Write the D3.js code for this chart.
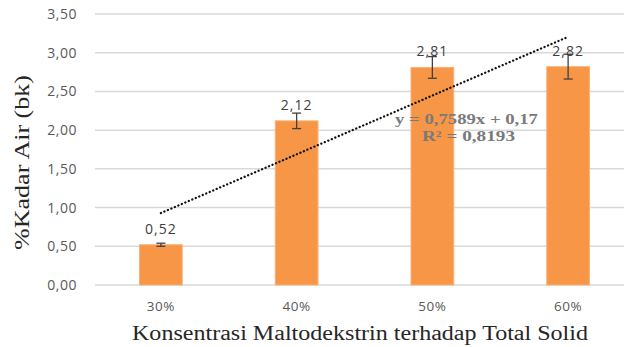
<!DOCTYPE html>
<html>
<head>
<meta charset="utf-8">
<script src="https://cdn.jsdelivr.net/npm/d3@7"></script>
<style>
  html, body { margin: 0; padding: 0; background: #fff; }
  svg { display: block; }
</style>
</head>
<body>
<svg id="chart" width="624" height="347"></svg>
<script>
// Moisture content vs. maltodextrin concentration
const categories = ["30%", "40%", "50%", "60%"];
const values = [0.52, 2.12, 2.81, 2.82];
const errors = [0.02, 0.10, 0.14, 0.16];
const labels = ["0,52", "2,12", "2,81", "2,82"];
const yTicks = [0, 0.5, 1, 1.5, 2, 2.5, 3, 3.5];
const yTickLabels = ["0,00", "0,50", "1,00", "1,50", "2,00", "2,50", "3,00", "3,50"];
const trendSlope = 0.7589;
const trendIntercept = 0.17;
const trendText = ["y = 0,7589x + 0,17", "R² = 0,8193"];

const svg = d3.select("#chart");
const margin = { left: 93, right: -12, top: 14, bottom: 62 };
const W = 624, H = 347;

const x = d3.scaleBand()
  .domain(categories)
  .range([margin.left, W - margin.right])
  .paddingInner(0.685)
  .paddingOuter(0.3425);

const y = d3.scaleLinear()
  .domain([0, 3.5])
  .range([H - margin.bottom, margin.top]);

// horizontal gridlines
svg.append("g")
  .selectAll("line")
  .data(yTicks)
  .join("line")
  .attr("x1", margin.left + 2)
  .attr("x2", W)
  .attr("y1", d => y(d))
  .attr("y2", d => y(d))
  .attr("stroke", "#d9d9d9")
  .attr("stroke-width", 1.5);

// y axis tick labels
const yAxis = d3.axisLeft(y)
  .tickValues(yTicks)
  .tickFormat((d, i) => yTickLabels[i])
  .tickSize(0)
  .tickPadding(16);
const gy = svg.append("g")
  .attr("transform", `translate(${margin.left},0)`)
  .call(yAxis);
gy.select(".domain").remove();
gy.selectAll("text")
  .attr("font-family", "'Open Sans', sans-serif")
  .attr("font-size", 14)
  .attr("letter-spacing", 0.5)
  .attr("fill", "#595959");

// x axis tick labels
const xAxis = d3.axisBottom(x).tickSize(0).tickPadding(16);
const gx = svg.append("g")
  .attr("transform", `translate(0,${y(0)})`)
  .call(xAxis);
gx.select(".domain").remove();
gx.selectAll("text")
  .attr("font-family", "'Open Sans', sans-serif")
  .attr("font-size", 13.5)
  .attr("letter-spacing", 0.6)
  .attr("fill", "#595959");

// bars
svg.append("g")
  .selectAll("rect")
  .data(values)
  .join("rect")
  .attr("x", (d, i) => x(categories[i]))
  .attr("width", x.bandwidth())
  .attr("y", d => y(d))
  .attr("height", d => y(0) - y(d))
  .attr("fill", "#f79646")
  .attr("stroke", "#f9b27a")
  .attr("stroke-width", 1);

// error bars
const eb = svg.append("g")
  .attr("stroke", "#404040")
  .attr("stroke-width", 1.3);
values.forEach((v, i) => {
  const cx = x(categories[i]) + x.bandwidth() / 2;
  const e = errors[i];
  eb.append("line").attr("x1", cx).attr("x2", cx).attr("y1", y(v + e)).attr("y2", y(v - e));
  eb.append("line").attr("x1", cx - 4.5).attr("x2", cx + 4.5).attr("y1", y(v + e)).attr("y2", y(v + e));
  eb.append("line").attr("x1", cx - 4.5).attr("x2", cx + 4.5).attr("y1", y(v - e)).attr("y2", y(v - e));
});

// data labels
svg.append("g")
  .selectAll("text")
  .data(values)
  .join("text")
  .attr("x", (d, i) => x(categories[i]) + x.bandwidth() / 2)
  .attr("y", d => y(d) - 11)
  .attr("text-anchor", "middle")
  .attr("font-family", "'Open Sans', sans-serif")
  .attr("font-size", 14)
  .attr("letter-spacing", 1)
  .attr("fill", "#404040")
  .text((d, i) => labels[i]);

// linear trendline (x = 1..4 for the four categories)
const trendPts = [1, categories.length].map(k => ({
  px: x(categories[k - 1]) + x.bandwidth() / 2,
  py: y(trendSlope * k + trendIntercept)
}));
svg.append("line")
  .attr("x1", trendPts[0].px)
  .attr("y1", trendPts[0].py)
  .attr("x2", trendPts[1].px)
  .attr("y2", trendPts[1].py)
  .attr("stroke", "#111")
  .attr("stroke-width", 2.3)
  .attr("stroke-linecap", "round")
  .attr("stroke-dasharray", "0.1 3.7");

// trendline equation
const eqStyle = sel => sel
  .attr("font-family", "'Liberation Serif', 'Times New Roman', serif")
  .attr("font-weight", "bold")
  .attr("font-size", 15)
  .attr("fill", "#7a7a7a")
  .attr("lengthAdjust", "spacingAndGlyphs");
svg.append("text").call(eqStyle)
  .attr("x", 395).attr("y", 124).attr("textLength", 143)
  .text(trendText[0]);
svg.append("text").call(eqStyle)
  .attr("x", 422).attr("y", 141).attr("textLength", 93)
  .text(trendText[1]);

// axis titles
svg.append("text")
  .attr("x", 132)
  .attr("y", 340)
  .attr("font-family", "'Liberation Serif', 'Times New Roman', serif")
  .attr("font-size", 20)
  .attr("textLength", 456)
  .attr("lengthAdjust", "spacingAndGlyphs")
  .attr("fill", "#262626")
  .text("Konsentrasi Maltodekstrin terhadap Total Solid");

svg.append("text")
  .attr("transform", "translate(29,250) rotate(-90)")
  .attr("font-family", "'Liberation Serif', 'Times New Roman', serif")
  .attr("font-size", 20)
  .attr("textLength", 175)
  .attr("lengthAdjust", "spacingAndGlyphs")
  .attr("fill", "#262626")
  .text("%Kadar Air (bk)");
</script>
</body>
</html>
